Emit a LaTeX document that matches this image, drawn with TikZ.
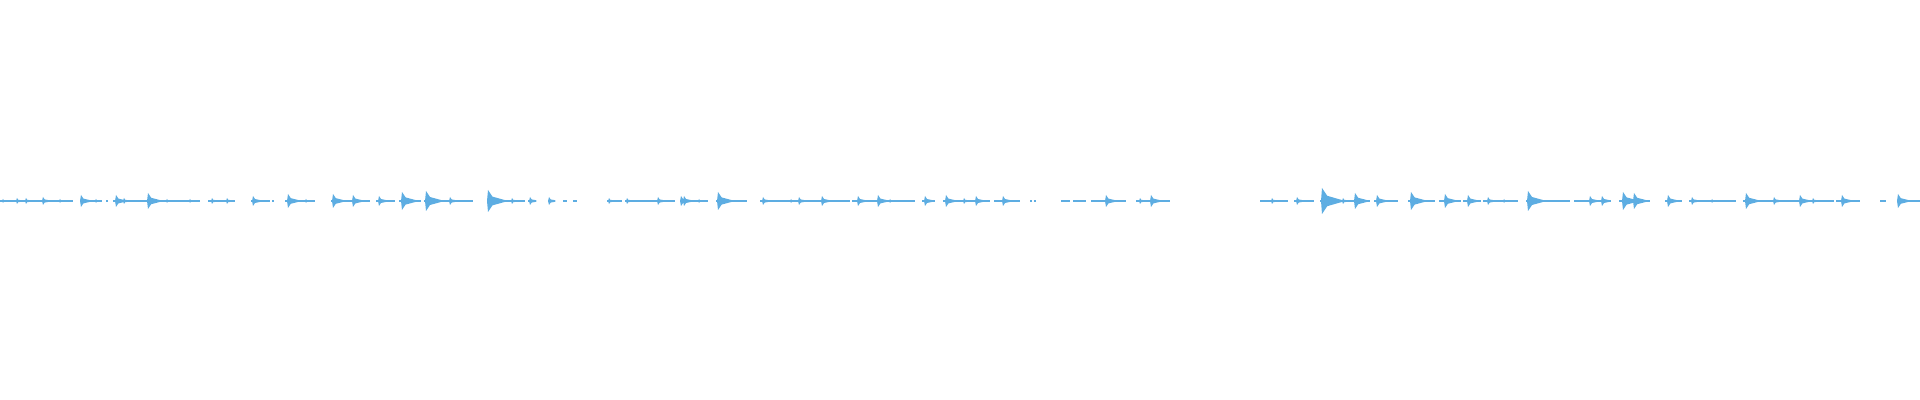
\documentclass[tikz,border=0pt]{standalone}
\usepackage{tikz}
\definecolor{wave}{HTML}{5DADE2}
\begin{document}
\begin{tikzpicture}[x=0.01cm,y=0.01cm,
  baseline/.style={draw=wave, line width=0.5pt},
  burst/.style={fill=wave, draw=none}]
\useasboundingbox (0,0) rectangle (1920,400);
% baseline pieces
\foreach \a/\b in {0/73,80/102,106/108,113/200,208/235,251/270,272/274,285/315,331/370,376/395,399/421,424/473,
  487/525,528/532,563/567,573/577,607/622,625/675,680/708,716/747,760/850,852/915,922/935,943/965,
  968/990,994/1020,1030/1032,1034/1036,1061/1070,1073/1086,1091/1126,1136/1170,
  1260/1288,1294/1314,1320/1370,1374/1398,1408/1435,1439/1461,1463/1481,1483/1518,1526/1570,1574/1611,
  1619/1650,1665/1682,1689/1736,1743/1834,1836/1860,1880/1886,1897/1920}
  \draw[baseline] (\a,199) -- (\b,199);
% bursts: position / half height
\foreach \x/\h in {3/2,17/3,26/3,43/4,60/2,81/6,96/2,116/6,124/3,148/8,167/2,190/2,212/3,227/3,253/5,
  288/7,306/2,333/7,353/6,379/5,402/9,426/10,450/4,
  488/11,512/3,530/4,549/4,609/3,627/3,658/4,681/5,684/5,699/2,718/9,763/4,791/2,799/4,822/5,858/5,
  878/6,890/2,925/5,946/6,964/3,976/5,1003/5,1106/6,1140/3,1151/6,
  1272/3,1297/4,1322/13,1343/3,1355/8,1377/6,1411/9,1445/7,1468/6,1488/4,1504/2,1528/10,
  1590/5,1602/5,1623/9,1634/8,1668/6,1692/4,1712/2,1746/8,1774/4,1800/6,1813/3,1842/6,1898/7}
  \fill[burst] (\x-1,199) -- (\x,199+\h) -- (\x+0.4*\h,199+0.4*\h) -- (\x+1.6*\h,199+0.7)
    -- (\x+1.6*\h,199-0.7) -- (\x+0.4*\h,199-0.4*\h) -- (\x,199-\h) -- cycle;
\end{tikzpicture}
\end{document}
